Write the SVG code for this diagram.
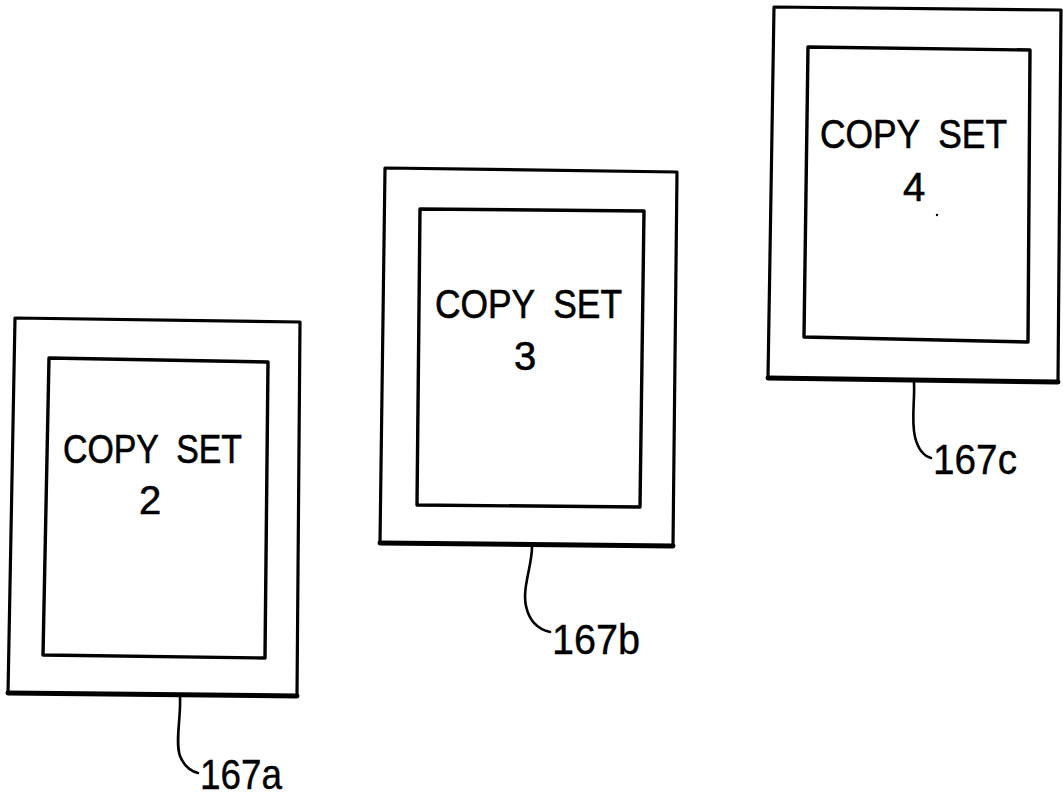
<svg xmlns="http://www.w3.org/2000/svg" width="1063" height="797" viewBox="0 0 1063 797">
<style>
.outer{fill:none;stroke:#000;stroke-width:3.2;stroke-linejoin:round}
.base{fill:none;stroke:#000;stroke-width:5;stroke-linecap:round}
.inner{fill:none;stroke:#000;stroke-width:3.4;stroke-linejoin:round}
.t{font-family:"Liberation Sans",Arial,sans-serif;font-size:40px;fill:#000;stroke:#000;stroke-width:0.6;word-spacing:10px}
.lbl{font-family:"Liberation Sans",Arial,sans-serif;font-size:43px;fill:#000;stroke:#000;stroke-width:0.4}
.lead{fill:none;stroke:#000;stroke-width:2.6;stroke-linecap:round}
</style>
<rect width="1063" height="797" fill="#fff"/>
<g id="copyset2">
<polygon class="outer" points="15,318 300,322 297,696 8,693"/>
<line class="base" x1="8" y1="693" x2="297" y2="696"/>
<polygon class="inner" points="49,358 268,362 265,658 43,655"/>
<text class="t" x="63" y="463" textLength="179" lengthAdjust="spacingAndGlyphs">COPY SET</text>
<text class="t" x="150" y="514" text-anchor="middle">2</text>
</g>
<g id="copyset3">
<polygon class="outer" points="385,168 677,172 673,546 380,543"/>
<line class="base" x1="380" y1="543" x2="673" y2="546"/>
<polygon class="inner" points="420,209 644,211 640,507 417,505"/>
<text class="t" x="435" y="318" textLength="187" lengthAdjust="spacingAndGlyphs">COPY SET</text>
<text class="t" x="525" y="370" text-anchor="middle">3</text>
</g>
<g id="copyset4">
<polygon class="outer" points="774,7 1061,10 1058,382 768,378"/>
<line class="base" x1="768" y1="378" x2="1058" y2="382"/>
<polygon class="inner" points="808,47 1030,50 1028,342 804,337"/>
<text class="t" x="820" y="148" textLength="187" lengthAdjust="spacingAndGlyphs">COPY SET</text>
<text class="t" x="914" y="201" text-anchor="middle">4</text>
<circle cx="937" cy="215" r="1.2" fill="#000"/>
</g>
<g id="connectors">
<path class="lead" d="M180,697 C181,718 175,742 180,756 C184,766 190,771 198,773"/>
<path class="lead" d="M532,547 C532,566 522,588 526,606 C529,620 537,629 550,632"/>
<path class="lead" d="M914,383 C915,400 911,420 915,437 C918,449 924,456 931,458"/>
</g>
<g id="labels">
<text class="lbl" x="200" y="789" textLength="82" lengthAdjust="spacingAndGlyphs">167a</text>
<text class="lbl" x="552" y="654" textLength="88" lengthAdjust="spacingAndGlyphs">167b</text>
<text class="lbl" x="933" y="474" textLength="84" lengthAdjust="spacingAndGlyphs">167c</text>
</g>
</svg>
